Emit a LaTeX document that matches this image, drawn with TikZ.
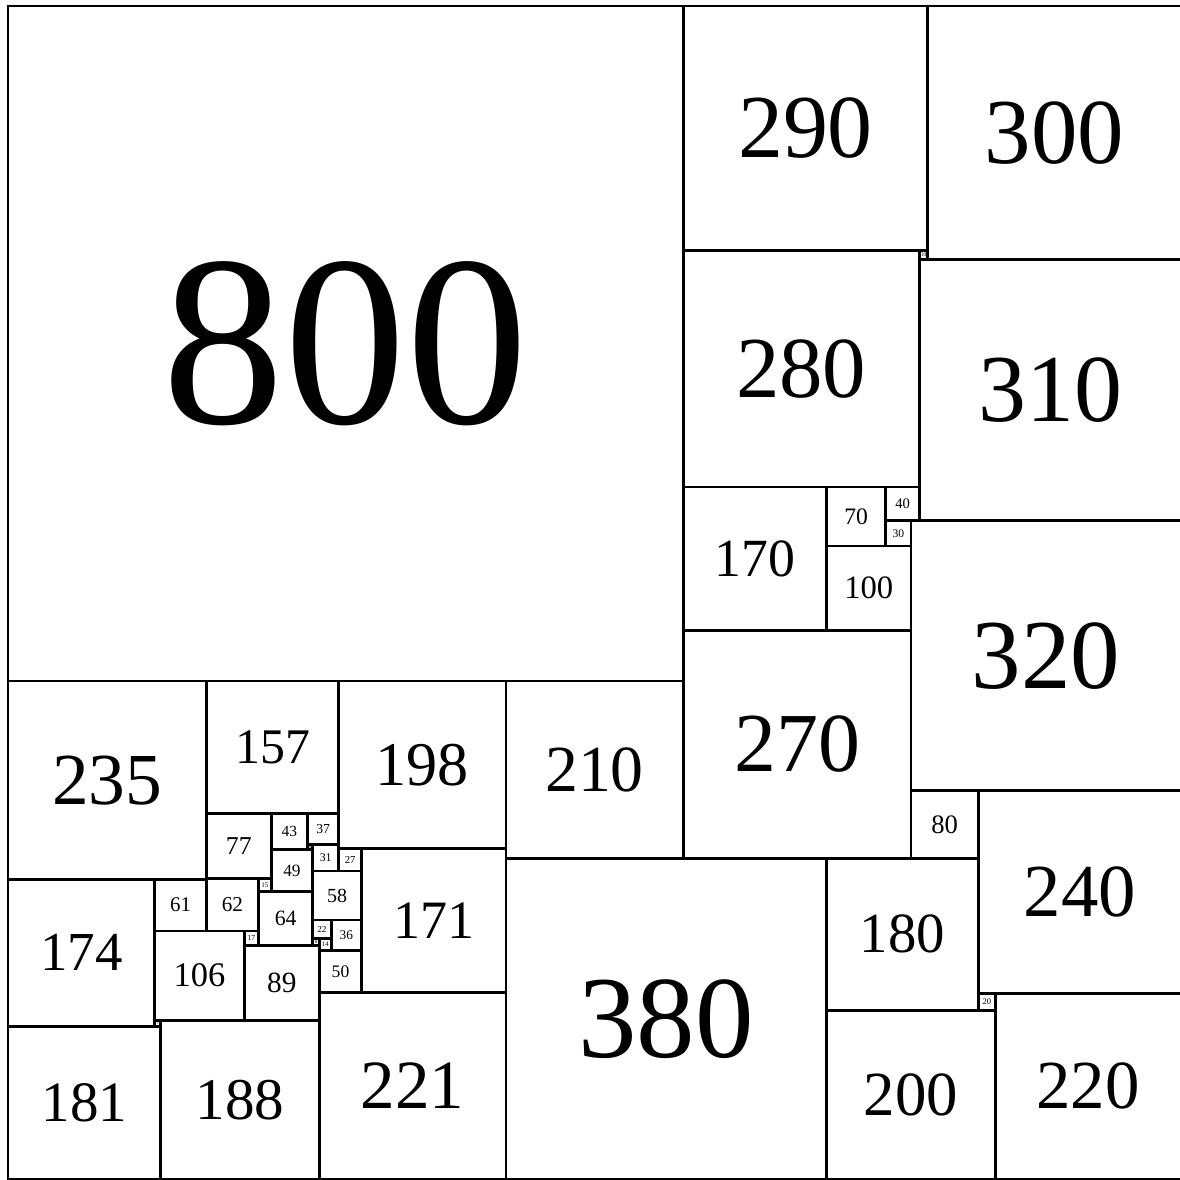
\documentclass[tikz,border=0pt]{standalone}
\usepackage{fontspec}
\setmainfont{Liberation Serif}
\begin{document}
\begin{tikzpicture}[x=1pt,y=-1pt,
  sqline/.style={line width=3.3pt, draw=black},
  lbl/.style={inner sep=0pt, text=black}]
\useasboundingbox (-9.5,-7.1) rectangle (1388.8,1391.2);
\foreach \x/\y/\s in {
  0/0/800, 800/0/290, 1090/0/300, 1080/290/10, 800/290/280, 1080/300/310,
  800/570/170, 970/570/70, 1040/570/40, 1040/610/30, 970/640/100,
  1070/610/320, 800/740/270, 1070/930/80, 1150/930/240,
  590/1010/380, 970/1010/180, 1150/1170/20, 1170/1170/220, 970/1190/200,
  590/800/210, 392/800/198, 235/800/157, 0/800/235,
  235/957/77, 312/957/43, 355/957/37, 355/994/6, 361/994/31, 392/998/27,
  312/1000/49, 361/1025/58, 297/1034/15, 174/1035/61, 235/1034/62,
  297/1049/64, 361/1083/22, 383/1083/36, 361/1105/8, 369/1105/14,
  280/1096/17, 174/1096/106, 280/1113/89, 369/1119/50, 419/998/171,
  0/1035/174, 174/1202/7, 0/1209/181, 181/1202/188, 369/1169/221} {
  \pgfmathsetmacro{\f}{0.357*\s+3}
  \draw[sqline] (\x,\y) rectangle ++(\s,\s);
  \node[lbl, font=\fontsize{\f}{\f}\selectfont] (s\s) at (\x+\s/2,\y+\s/2) {\s};
}
\end{tikzpicture}
\end{document}
